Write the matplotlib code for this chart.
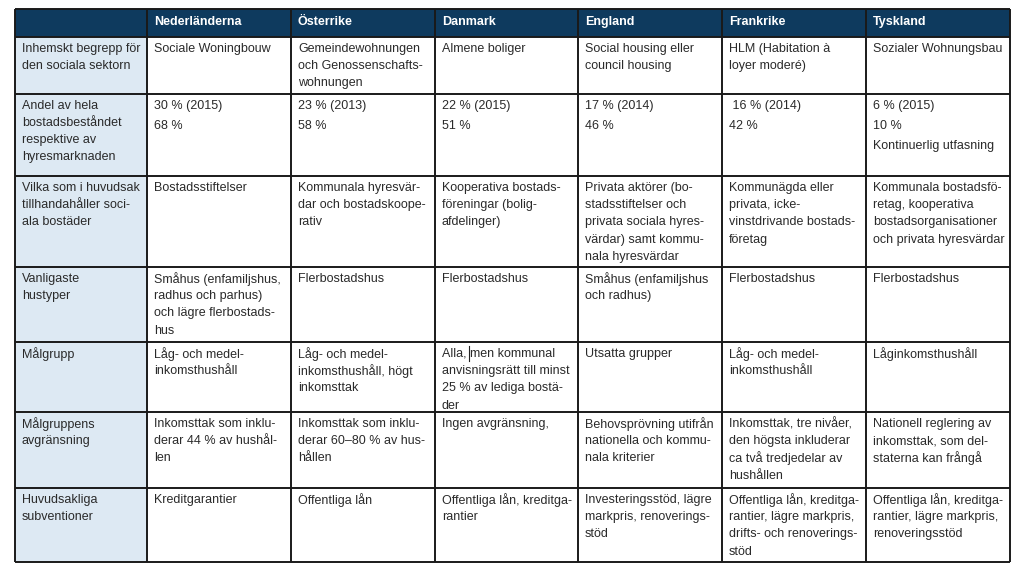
import matplotlib.pyplot as plt
from matplotlib.patches import Rectangle

countries = ['Nederländerna', 'Österrike', 'Danmark', 'England', 'Frankrike', 'Tyskland']

row_labels = [
    'Inhemskt begrepp för\nden sociala sektorn',
    'Andel av hela\nbostadsbeståndet\nrespektive av\nhyresmarknaden',
    'Vilka som i huvudsak\ntillhandahåller soci-\nala bostäder',
    'Vanligaste\nhustyper',
    'Målgrupp',
    'Målgruppens\navgränsning',
    'Huvudsakliga\nsubventioner',
]

begrepp = ['Sociale Woningbouw',
           'Gemeindewohnungen\noch Genossenschafts-\nwohnungen',
           'Almene boliger',
           'Social housing eller\ncouncil housing',
           'HLM (Habitation à\nloyer moderé)',
           'Sozialer Wohnungsbau']
andel = ['30 % (2015)\n68 %',
         '23 % (2013)\n58 %',
         '22 % (2015)\n51 %',
         '17 % (2014)\n46 %',
         ' 16 % (2014)\n42 %',
         '6 % (2015)\n10 %\nKontinuerlig utfasning']
aktorer = ['Bostadsstiftelser',
           'Kommunala hyresvär-\ndar och bostadskoope-\nrativ',
           'Kooperativa bostads-\nföreningar (bolig-\nafdelinger)',
           'Privata aktörer (bo-\nstadsstiftelser och\nprivata sociala hyres-\nvärdar) samt kommu-\nnala hyresvärdar',
           'Kommunägda eller\nprivata, icke-\nvinstdrivande bostads-\nföretag',
           'Kommunala bostadsfö-\nretag, kooperativa\nbostadsorganisationer\noch privata hyresvärdar']
hustyper = ['Småhus (enfamiljshus,\nradhus och parhus)\noch lägre flerbostads-\nhus',
            'Flerbostadshus',
            'Flerbostadshus',
            'Småhus (enfamiljshus\noch radhus)',
            'Flerbostadshus',
            'Flerbostadshus']
malgrupp = ['Låg- och medel-\ninkomsthushåll',
            'Låg- och medel-\ninkomsthushåll, högt\ninkomsttak',
            'Alla, men kommunal\nanvisningsrätt till minst\n25 % av lediga bostä-\nder',
            'Utsatta grupper',
            'Låg- och medel-\ninkomsthushåll',
            'Låginkomsthushåll']
avgransning = ['Inkomsttak som inklu-\nderar 44 % av hushål-\nlen',
               'Inkomsttak som inklu-\nderar 60–80 % av hus-\nhållen',
               'Ingen avgränsning,',
               'Behovsprövning utifrån\nnationella och kommu-\nnala kriterier',
               'Inkomsttak, tre nivåer,\nden högsta inkluderar\nca två tredjedelar av\nhushållen',
               'Nationell reglering av\ninkomsttak, som del-\nstaterna kan frångå']
subventioner = ['Kreditgarantier',
                'Offentliga lån',
                'Offentliga lån, kreditga-\nrantier',
                'Investeringsstöd, lägre\nmarkpris, renoverings-\nstöd',
                'Offentliga lån, kreditga-\nrantier, lägre markpris,\ndrifts- och renoverings-\nstöd',
                'Offentliga lån, kreditga-\nrantier, lägre markpris,\nrenoveringsstöd']

cells = [begrepp, andel, aktorer, hustyper, malgrupp, avgransning, subventioner]

# layout in pixels
col_x = [15, 147, 291, 435, 578, 722, 866, 1010]
row_y = [9, 37, 94, 176, 267, 342, 412, 488, 562]

navy = '#0e3a5e'
light = '#dde9f3'
font = 'Liberation Sans'
fs = 9

fig = plt.figure(figsize=(10.24, 5.81), dpi=100)
ax = fig.add_axes([0, 0, 1, 1])
ax.set_xlim(0, 1024)
ax.set_ylim(581, 0)
ax.axis('off')

# header
ax.add_patch(Rectangle((col_x[0], row_y[0]), col_x[-1] - col_x[0], row_y[1] - row_y[0],
                       facecolor=navy, edgecolor='none'))
# first column
ax.add_patch(Rectangle((col_x[0], row_y[1]), col_x[1] - col_x[0], row_y[-1] - row_y[1],
                       facecolor=light, edgecolor='none'))

for j, name in enumerate(countries):
    ax.text(col_x[j + 1] + 7, (row_y[0] + row_y[1]) / 2 - 1, name, color='white',
            fontsize=fs, fontweight='bold', family=font, va='center', ha='left')

for i, label in enumerate(row_labels):
    top = row_y[i + 1]
    for k, line in enumerate(label.split('\n')):
        ax.text(col_x[0] + 7, top + 12 + k * 17, line, fontsize=fs, family=font,
                color='#2a2a2a', va='center', ha='left')
    step = 20 if i == 1 else 17.2
    for j, txt in enumerate(cells[i]):
        for k, line in enumerate(txt.split('\n')):
            ax.text(col_x[j + 1] + 7, top + 12 + k * step, line, fontsize=fs, family=font,
                    color='#2a2a2a', va='center', ha='left')

# grid lines
for x in col_x:
    ax.plot([x, x], [row_y[0], row_y[-1]], color='#1a1a1a', lw=1.4, solid_capstyle='butt')
for y in row_y:
    ax.plot([col_x[0], col_x[-1]], [y, y], color='#1a1a1a', lw=1.4, solid_capstyle='butt')

# text cursor in the Danmark / Målgrupp cell
ax.plot([469, 469], [row_y[5] + 4, row_y[5] + 19], color='#222222', lw=0.8)

fig.savefig('out.png', dpi=100)
